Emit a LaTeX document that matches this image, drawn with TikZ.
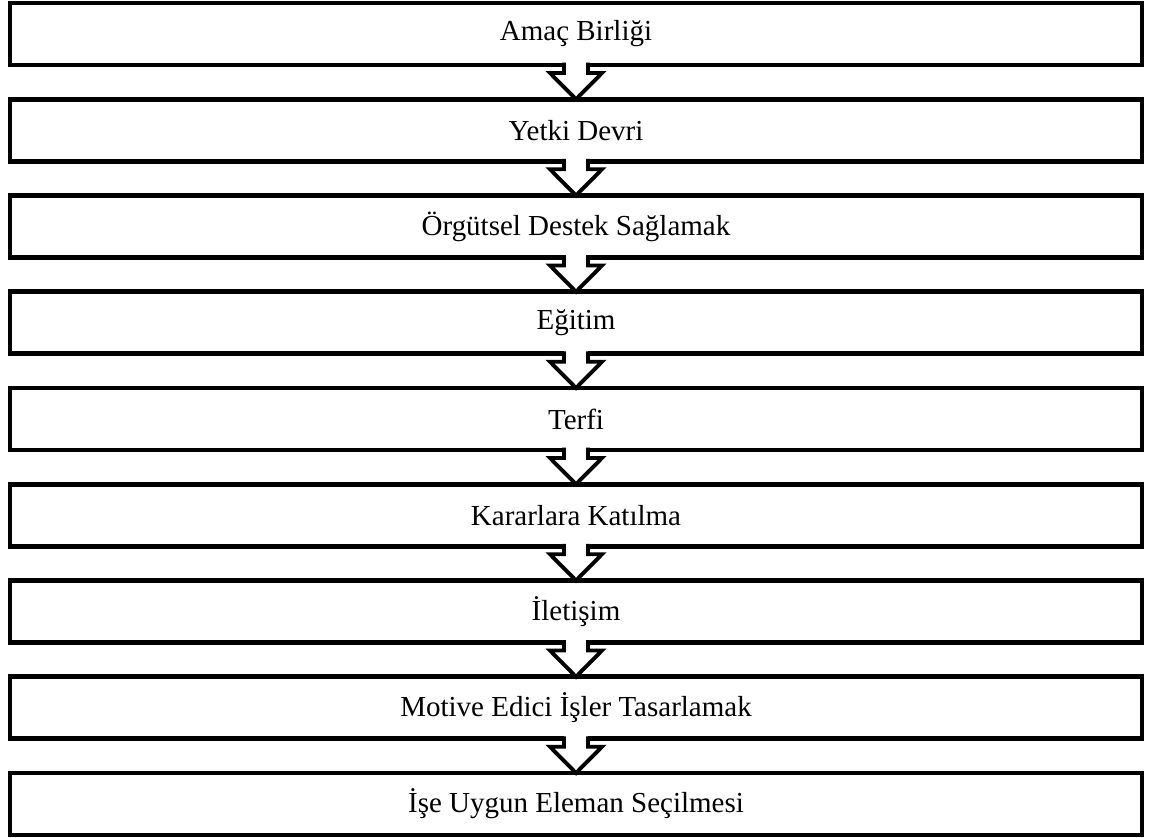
\documentclass[tikz,border=0pt]{standalone}
\usepackage{fontspec}
\setmainfont{Liberation Serif}
\usetikzlibrary{calc}

\begin{document}
\begin{tikzpicture}[x=0.02cm,y=-0.02cm,font=\fontsize{16.5}{20}\selectfont]
\tikzstyle{b}=[draw,line width=2.6pt,outer sep=0pt,minimum width=22.64cm,minimum height=1.24cm,inner sep=0pt]
\tikzstyle{ok}=[draw,fill=white,line width=2.2pt,miter limit=10]
\useasboundingbox (0,0) rectangle (1161,838);
\node[b] (amac) at (576,34) {Amaç Birliği};
\node[b] (yetki) at (576,130.25) {Yetki Devri};
\node[b] (destek) at (576,226.5) {Örgütsel Destek Sağlamak};
\node[b] (egitim) at (576,322.75) {Eğitim};
\node[b] (terfi) at (576,419) {Terfi};
\node[b] (karar) at (576,515.25) {Kararlara Katılma};
\node[b] (iletisim) at (576,611.5) {İletişim};
\node[b] (motive) at (576,707.75) {Motive Edici İşler Tasarlamak};
\node[b] (eleman) at (576,804) {İşe Uygun Eleman Seçilmesi};
% block arrows between the boxes
\foreach \u/\v in {amac/yetki,yetki/destek,destek/egitim,egitim/terfi,terfi/karar,karar/iletisim,iletisim/motive,motive/eleman}{
  \fill[white] ($(\u.south)+(-12,-2.4)$) rectangle ($(\u.south)+(12,8)$);
  \draw[ok] ($(\u.south)+(-12,-2.4)$) -- ($(\u.south)+(-12,8)$) -- ($(\u.south)+(-26,8)$) -- (\v.north)
    -- ($(\u.south)+(26,8)$) -- ($(\u.south)+(12,8)$) -- ($(\u.south)+(12,-2.4)$);
}
\end{tikzpicture}
\end{document}
